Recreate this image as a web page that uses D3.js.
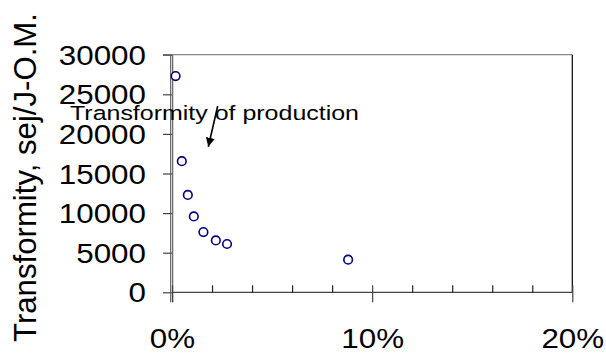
<!DOCTYPE html>
<html>
<head>
<meta charset="utf-8">
<script src="https://cdn.jsdelivr.net/npm/d3@7"></script>
<style>
  html, body { margin: 0; padding: 0; background: #fff; }
  svg { display: block; }
  text { font-family: "Liberation Sans", Arial, sans-serif; fill: #000; }
</style>
</head>
<body>
<svg id="chart" width="606" height="354"></svg>
<script>
// Data (share of x, transformity y)
const xShare = [0.0018, 0.0049, 0.0079, 0.0109, 0.0157, 0.0219, 0.0275, 0.088];
const transformity = [27300, 16550, 12300, 9580, 7600, 6550, 6100, 4120];
const yTicks = [0, 5000, 10000, 15000, 20000, 25000, 30000];
const xMajorTicks = [0, 0.1, 0.2];
const xMinorTicks = [0.02, 0.04, 0.06, 0.08, 0.12, 0.14, 0.16, 0.18];
const yTitle = "Transformity, sej/J-O.M.";
const annotation = "Transformity of production";

const svg = d3.select("#chart");
const pL = 172, pR = 572.3, pT = 54.7, pB = 292.3;
const hStretch = 1.12;

const x = d3.scaleLinear().domain([0, 0.2]).range([pL, pR]);
const y = d3.scaleLinear().domain([0, 30000]).range([pB, pT]);

// top border & right border
svg.append("line").attr("x1", 163).attr("x2", pR).attr("y1", pT).attr("y2", pT)
  .attr("stroke", "#888").attr("stroke-width", 1.2);
svg.append("line").attr("x1", pR).attr("x2", pR).attr("y1", pT).attr("y2", pB)
  .attr("stroke", "#000").attr("stroke-width", 1.2);

// Y axis (ticks outward)
const yAxis = d3.axisLeft(y).tickValues(yTicks).tickSize(9).tickFormat("");
const gy = svg.append("g").attr("transform", `translate(${pL},0)`).call(yAxis);
gy.select(".domain").remove();
gy.selectAll(".tick line").attr("stroke", "#444").attr("stroke-width", 1.2);

// double y axis line
[pL - 1.3, pL + 0.7].forEach(px => {
  svg.append("line").attr("x1", px).attr("x2", px).attr("y1", pT).attr("y2", pB + 10)
    .attr("stroke", "#555").attr("stroke-width", 1.1);
});

// y tick labels
svg.append("g").selectAll("text").data(yTicks).join("text")
  .attr("transform", d => `translate(146,${y(d)}) scale(${hStretch},1)`)
  .attr("dy", "0.36em")
  .attr("text-anchor", "end").style("font-size", "28px")
  .text(d => d);

// X axis
svg.append("line").attr("x1", pL).attr("x2", pR).attr("y1", pB).attr("y2", pB)
  .attr("stroke", "#444").attr("stroke-width", 1.3);
const xMinor = d3.axisTop(x).tickValues(xMinorTicks).tickSize(7).tickFormat("");
const gxm = svg.append("g").attr("transform", `translate(0,${pB})`).call(xMinor);
gxm.select(".domain").remove();
gxm.selectAll(".tick line").attr("stroke", "#222").attr("stroke-width", 1.2);
const xMajor = d3.axisBottom(x).tickValues(xMajorTicks).tickSizeInner(10).tickSizeOuter(0)
  .tickFormat(d3.format(".0%"));
const gx = svg.append("g").attr("transform", `translate(0,${pB})`).call(xMajor);
gx.select(".domain").remove();
gx.selectAll(".tick line").attr("y1", -7).attr("stroke", "#444").attr("stroke-width", 1.2);
gx.selectAll(".tick text").attr("y", null).attr("dy", null)
  .attr("transform", `translate(0,56) scale(${hStretch},1)`)
  .style("font-size", "28px")
  .style("font-family", "Liberation Sans, Arial, sans-serif").attr("fill", "#000");

// Y title
svg.append("text")
  .attr("transform", `translate(36,${177.5}) rotate(-90)`)
  .attr("text-anchor", "middle").style("font-size", "31px")
  .attr("textLength", 329).attr("lengthAdjust", "spacingAndGlyphs")
  .text(yTitle);

// points
svg.append("g").selectAll("circle").data(xShare).join("circle")
  .attr("cx", d => x(d)).attr("cy", (d, i) => y(transformity[i]))
  .attr("r", 4.3).attr("fill", "#fff").attr("stroke", "#000080").attr("stroke-width", 1.6);

// annotation
svg.append("text").attr("x", 70).attr("y", 120).style("font-size", "20.5px")
  .attr("textLength", 289).attr("lengthAdjust", "spacingAndGlyphs")
  .text(annotation);

// arrow
svg.append("defs").append("marker").attr("id", "ah")
  .attr("viewBox", "0 0 10 10").attr("refX", 10).attr("refY", 5)
  .attr("markerWidth", 9).attr("markerHeight", 9).attr("markerUnits", "userSpaceOnUse")
  .attr("orient", "auto")
  .append("path").attr("d", "M0,0 L10,5 L0,10 z").attr("fill", "#000");
svg.append("line").attr("x1", 217.7).attr("y1", 106).attr("x2", 208.3).attr("y2", 146.7)
  .attr("stroke", "#000").attr("stroke-width", 1.6).attr("marker-end", "url(#ah)");
</script>
</body>
</html>
